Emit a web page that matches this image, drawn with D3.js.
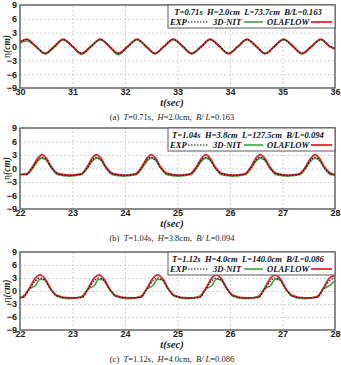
<!DOCTYPE html>
<html>
<head>
<meta charset="utf-8">
<script src="https://cdnjs.cloudflare.com/ajax/libs/d3/7.8.5/d3.min.js"></script>
<style>
    body { margin: 0; background: #fff; }
    svg { display: block; }
    .axis text { font-family: "Liberation Sans", Arial, sans-serif; font-weight: bold; font-size: 9px; fill: #222; }
    .axis path, .axis line { display: none; }
    .grid path { display: none; }
    .grid line { stroke: #c4c4c4; stroke-width: 0.8; stroke-dasharray: 2 2; }
    .serif { font-family: "Liberation Serif", "Times New Roman", serif; }
    .legend text { font-family: "Liberation Serif", "Times New Roman", serif; font-weight: bold; font-style: italic; font-size: 8.6px; fill: #111; }
</style>
</head>
<body>
<div id="chart"></div>
<script>
// ---- data ----

// shared
var yTicks = [-9, -6, -3, 0, 3, 6, 9];
var seriesNames = ['EXP', '3D-NIT', 'OLAFLOW'];

// (a) T=0.71s
var xTicksA = [30, 31, 32, 33, 34, 35, 36];
var timeA = [30.00, 30.13, 30.30, 30.48, 30.65, 30.82, 31.00, 31.17, 31.35, 31.53, 31.70, 31.87,
             32.05, 32.23, 32.40, 32.57, 32.74, 32.92, 33.10, 33.27, 33.45, 33.62, 33.80, 33.97,
             34.15, 34.32, 34.50, 34.67, 34.84, 35.02, 35.20, 35.37, 35.55, 35.73, 35.90, 36.00];
var expA = [1.1, 1.5, 0.1, -1.5, -0.1, 1.5, 0.1, -1.5, 0.0, 1.5, 0.1, -1.5,
            -0.1, 1.5, 0.1, -1.5, 0.0, 1.5, 0.1, -1.5, -0.1, 1.5, 0.1, -1.5,
            0.0, 1.5, 0.1, -1.5, -0.1, 1.5, 0.1, -1.5, 0.0, 1.5, 0.1, -0.4];
var nitA = [0.7, 1.2, 0.0, -1.6, -0.2, 1.4, 0.0, -1.7, -0.1, 1.5, 0.0, -1.8,
            -0.1, 1.5, 0.0, -1.6, -0.1, 1.5, 0.0, -1.6, -0.1, 1.5, 0.0, -1.6,
            -0.1, 1.5, 0.0, -1.6, -0.1, 1.5, 0.0, -1.6, -0.1, 1.5, 0.0, -0.6];
var olaA = [1.0, 1.6, 0.0, -1.5, 0.0, 1.6, 0.0, -1.5, 0.0, 1.6, 0.0, -1.5,
            0.0, 1.6, 0.0, -1.5, 0.0, 1.6, 0.0, -1.5, 0.0, 1.6, 0.0, -1.5,
            0.0, 1.6, 0.0, -1.5, 0.0, 1.6, 0.0, -1.5, 0.0, 1.6, 0.0, -0.5];
var legendA = 'T=0.71s  H=2.0cm  L=73.7cm  B/L=0.163';
var captionA = [['(a)  ', false], ['T', true], ['=0.71s,  ', false], ['H', true], ['=2.0cm,  ', false], ['B/ L', true], ['=0.163', false]];

// (b) T=1.04s
var xTicksB = [22, 23, 24, 25, 26, 27, 28];
var timeB = [22.00, 22.12, 22.24, 22.34, 22.42, 22.50, 22.60, 22.72, 22.94,
             23.16, 23.28, 23.38, 23.46, 23.54, 23.64, 23.76, 23.98,
             24.20, 24.32, 24.42, 24.50, 24.58, 24.68, 24.80, 25.02,
             25.24, 25.36, 25.46, 25.54, 25.62, 25.72, 25.84, 26.06,
             26.28, 26.40, 26.50, 26.58, 26.66, 26.76, 26.88, 27.10,
             27.32, 27.44, 27.54, 27.62, 27.70, 27.80, 27.92, 28.00];
var expB = [-1.3,
            -1.3, 0.2, 1.9, 2.5, 1.9, 0.1, -1.2, -1.5,
            -1.3, 0.2, 1.9, 2.5, 1.9, 0.1, -1.2, -1.5,
            -1.3, 0.2, 1.9, 2.5, 1.9, 0.1, -1.2, -1.5,
            -1.3, 0.2, 1.9, 2.5, 1.9, 0.1, -1.2, -1.5,
            -1.3, 0.2, 1.9, 2.5, 1.9, 0.1, -1.2, -1.5,
            -1.3, 0.2, 1.9, 2.5, 1.9, 0.1, -1.2, -1.4];
var nitB = [-1.4,
            -1.4, 0.0, 1.7, 2.3, 1.9, 0.1, -1.4, -1.7,
            -1.4, 0.0, 1.7, 2.3, 1.9, 0.1, -1.4, -1.7,
            -1.4, 0.0, 1.7, 2.3, 1.9, 0.1, -1.4, -1.7,
            -1.4, 0.0, 1.7, 2.3, 1.9, 0.1, -1.4, -1.7,
            -1.4, 0.0, 1.7, 2.3, 1.9, 0.1, -1.4, -1.7,
            -1.4, 0.0, 1.7, 2.3, 1.9, 0.1, -1.4, -1.5];
var olaB = [-1.3,
            -1.2, 0.4, 2.3, 3.1, 2.3, 0.3, -1.1, -1.5,
            -1.2, 0.4, 2.4, 3.1, 2.3, 0.3, -1.1, -1.5,
            -1.2, 0.4, 2.3, 3.1, 2.3, 0.3, -1.1, -1.5,
            -1.2, 0.4, 2.3, 3.1, 2.3, 0.3, -1.1, -1.5,
            -1.2, 0.4, 2.4, 3.1, 2.3, 0.3, -1.1, -1.5,
            -1.2, 0.4, 2.3, 3.1, 2.3, 0.3, -1.1, -1.3];
var legendB = 'T=1.04s  H=3.8cm  L=127.5cm  B/L=0.094';
var captionB = [['(b)  ', false], ['T', true], ['=1.04s,  ', false], ['H', true], ['=3.8cm,  ', false], ['B/ L', true], ['=0.094', false]];

// (c) T=1.12s
var xTicksC = [22, 23, 24, 25, 26, 27, 28];
var timeC = [22.00, 22.06, 22.18, 22.29, 22.38, 22.47, 22.58, 22.70, 22.94,
             23.18, 23.30, 23.41, 23.50, 23.59, 23.70, 23.82, 24.06,
             24.30, 24.42, 24.53, 24.62, 24.71, 24.82, 24.94, 25.18,
             25.42, 25.54, 25.65, 25.74, 25.83, 25.94, 26.06, 26.30,
             26.54, 26.66, 26.77, 26.86, 26.95, 27.06, 27.18, 27.42,
             27.66, 27.78, 27.89, 28.00];
var expC = [-1.6,
            -1.5, 0.4, 2.3, 3.0, 2.5, 0.5, -1.1, -1.6,
            -1.5, 0.4, 2.3, 3.0, 2.5, 0.5, -1.1, -1.6,
            -1.5, 0.4, 2.3, 3.0, 2.5, 0.5, -1.1, -1.6,
            -1.5, 0.4, 2.3, 3.0, 2.5, 0.5, -1.1, -1.6,
            -1.5, 0.4, 2.3, 3.0, 2.5, 0.5, -1.1, -1.6,
            -1.5, 0.4, 2.3, 3.0];
var nitC = [-1.5,
            -1.2, 0.5, 1.2, 2.7, 2.6, 0.5, -1.2, -1.8,
            -1.2, 0.5, 1.2, 2.7, 2.6, 0.5, -1.2, -1.8,
            -1.2, 0.5, 1.2, 2.7, 2.6, 0.5, -1.2, -1.8,
            -1.2, 0.5, 1.2, 2.7, 2.6, 0.5, -1.2, -1.8,
            -1.2, 0.5, 1.2, 2.7, 2.6, 0.5, -1.2, -1.8,
            -1.2, 0.5, 1.2, 2.4];
var olaC = [-1.6,
            -1.4, 0.7, 2.9, 3.7, 2.9, 0.6, -1.0, -1.6,
            -1.4, 0.7, 2.9, 3.7, 2.9, 0.6, -1.0, -1.6,
            -1.4, 0.7, 2.9, 3.7, 2.9, 0.6, -1.0, -1.6,
            -1.4, 0.7, 2.9, 3.7, 2.9, 0.6, -1.0, -1.6,
            -1.4, 0.7, 2.9, 3.7, 2.9, 0.6, -1.0, -1.6,
            -1.4, 0.7, 2.9, 3.6];
var legendC = 'T=1.12s  H=4.0cm  L=140.0cm  B/L=0.086';
var captionC = [['(c)  ', false], ['T', true], ['=1.12s,  ', false], ['H', true], ['=4.0cm,  ', false], ['B/ L', true], ['=0.086', false]];

var svgWidth = 341, svgHeight = 365;

var svg = d3.select('#chart').append('svg')
    .attr('width', svgWidth).attr('height', svgHeight);
svg.append('rect').attr('width', svgWidth).attr('height', svgHeight).attr('fill', '#fff');

// constructor function
WavePanel = function(_svg, _id, _top, _height, _time, _exp, _nit, _ola, _xTicks, _legend, _caption) {
    this.svg = _svg;
    this.id = _id;
    this.top = _top;
    this.height = _height;
    this.time = _time;
    this.exp = _exp;
    this.nit = _nit;
    this.ola = _ola;
    this.xTicks = _xTicks;
    this.legend = _legend;
    this.caption = _caption;

    this.initVis();
}

WavePanel.prototype.initVis = function() {
    var vis = this;

    vis.margin = {left: 20, right: 6};
    vis.width = svgWidth - vis.margin.left - vis.margin.right;

    vis.g = vis.svg.append('g')
        .attr('transform', 'translate(' + vis.margin.left + ' ' + vis.top + ')');

    vis.x = d3.scaleLinear()
        .domain(d3.extent(vis.xTicks))
        .range([0, vis.width]);

    vis.y = d3.scaleLinear()
        .domain([-9, 9])
        .range([vis.height, 0]);

    // grid
    vis.g.append('g').attr('class', 'grid')
        .attr('transform', 'translate(0 ' + vis.height + ')')
        .call(d3.axisBottom(vis.x).tickValues(vis.xTicks.slice(1, -1)).tickSize(-vis.height).tickFormat(''));
    vis.g.append('g').attr('class', 'grid')
        .call(d3.axisLeft(vis.y).tickValues(yTicks.slice(1, -1)).tickSize(-vis.width).tickFormat(''));

    // tick labels
    vis.g.append('g').attr('class', 'axis')
        .attr('transform', 'translate(0 ' + vis.height + ')')
        .call(d3.axisBottom(vis.x).tickValues(vis.xTicks).tickSize(0).tickPadding(1).tickFormat(d3.format('d')));
    vis.g.append('g').attr('class', 'axis')
        .call(d3.axisLeft(vis.y).tickValues(yTicks).tickSize(0).tickPadding(3).tickFormat(d3.format('d')));

    // lines
    vis.g.append('clipPath').attr('id', 'clip' + vis.id)
        .append('rect').attr('width', vis.width).attr('height', vis.height);

    vis.line = d3.line()
        .x(function(d) { return vis.x(d[0]); })
        .y(function(d) { return vis.y(d[1]); })
        .curve(d3.curveMonotoneX);

    var lines = vis.g.append('g').attr('clip-path', 'url(#clip' + vis.id + ')');
    lines.append('path')
        .attr('d', vis.line(d3.zip(vis.time, vis.nit)))
        .attr('fill', 'none').attr('stroke', '#3aa83a').attr('stroke-width', 1.6);
    lines.append('path')
        .attr('d', vis.line(d3.zip(vis.time, vis.ola)))
        .attr('fill', 'none').attr('stroke', '#e3262b').attr('stroke-width', 1.8);
    lines.append('path')
        .attr('d', vis.line(d3.zip(vis.time, vis.exp)))
        .attr('fill', 'none').attr('stroke', '#151515').attr('stroke-width', 1.1)
        .attr('stroke-dasharray', '1.5 1.5');

    // frame
    vis.g.append('rect')
        .attr('width', vis.width).attr('height', vis.height)
        .attr('fill', 'none').attr('stroke', '#5a5a5a').attr('stroke-width', 1.4);

    // legend
    var lg = vis.g.append('g').attr('class', 'legend');
    lg.append('rect')
        .attr('x', 148).attr('y', 0).attr('width', vis.width - 148).attr('height', 23)
        .attr('fill', '#fff').attr('stroke', '#5a5a5a').attr('stroke-width', 1);
    lg.append('text').attr('x', 228).attr('y', 9.5).attr('text-anchor', 'middle')
        .attr('xml:space', 'preserve').text(vis.legend);

    var items = [
        {name: seriesNames[0], tx: 150, x1: 168, x2: 189, color: '#151515', width: 1.1, dash: '1.5 1.5'},
        {name: seriesNames[1], tx: 193, x1: 224, x2: 243, color: '#3aa83a', width: 1.6, dash: null},
        {name: seriesNames[2], tx: 247, x1: 291, x2: 312, color: '#e3262b', width: 1.8, dash: null}
    ];
    items.forEach(function(it) {
        lg.append('text').attr('x', it.tx).attr('y', 20).text(it.name);
        lg.append('line')
            .attr('x1', it.x1).attr('x2', it.x2).attr('y1', 17).attr('y2', 17)
            .attr('stroke', it.color).attr('stroke-width', it.width)
            .attr('stroke-dasharray', it.dash);
    });

    // y label
    var yl = vis.g.append('text').attr('class', 'serif')
        .attr('transform', 'translate(-10.5 ' + (vis.height / 2) + ') rotate(-90)')
        .attr('text-anchor', 'middle').attr('font-size', '9.5px').attr('fill', '#222');
    yl.append('tspan').text('η');
    yl.append('tspan').attr('font-style', 'italic').attr('font-weight', 'bold').text('(cm)');

    // x label
    vis.g.append('text').attr('class', 'serif')
        .attr('x', 152).attr('y', vis.height + 18)
        .attr('text-anchor', 'middle').attr('font-size', '10.5px')
        .attr('font-style', 'italic').attr('font-weight', 'bold').attr('fill', '#222')
        .text('t(sec)');

    // caption
    var cap = vis.g.append('text').attr('class', 'serif')
        .attr('x', 152).attr('y', vis.height + 32)
        .attr('text-anchor', 'middle').attr('font-size', '8.5px').attr('fill', '#222')
        .attr('xml:space', 'preserve');
    vis.caption.forEach(function(p) {
        cap.append('tspan').attr('font-style', p[1] ? 'italic' : 'normal').text(p[0]);
    });
}

new WavePanel(svg, 'a', 5, 83, timeA, expA, nitA, olaA, xTicksA, legendA, captionA);
new WavePanel(svg, 'b', 128, 81, timeB, expB, nitB, olaB, xTicksB, legendB, captionB);
new WavePanel(svg, 'c', 252, 78, timeC, expC, nitC, olaC, xTicksC, legendC, captionC);
</script>
</body>
</html>
